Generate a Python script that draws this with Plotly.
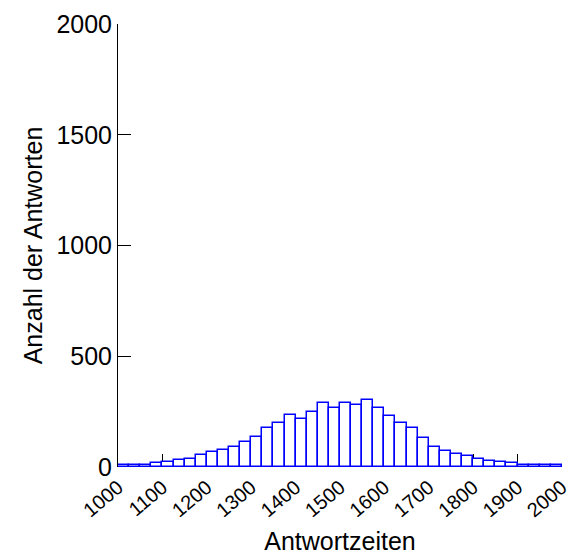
import plotly.graph_objects as go

bin_starts = [1000 + 25 * i for i in range(40)]
counts = [9, 8, 10, 20, 24, 33, 36, 53, 66, 75,
          92, 113, 134, 176, 199, 234, 217, 250, 290, 268,
          290, 282, 302, 267, 231, 199, 176, 131, 92, 71,
          59, 51, 35, 26, 24, 18, 8, 11, 8, 8]
bin_width = 25
x_ticks = list(range(1000, 2001, 100))
y_ticks = [0, 500, 1000, 1500, 2000]

centers = [s + bin_width / 2 for s in bin_starts]

fig = go.Figure(go.Bar(
    x=centers, y=counts, width=[bin_width] * len(counts),
    marker=dict(color="white", line=dict(color="#0000ff", width=1.5)),
))

font = "Liberation Sans, Arial, sans-serif"
fig.update_layout(
    width=570, height=557,
    margin=dict(l=118, r=8, t=24, b=90),
    plot_bgcolor="white", paper_bgcolor="white",
    showlegend=False,
    font=dict(family=font, color="black"),
    bargap=0,
)
fig.update_xaxes(
    range=[999.9, 2000.1], tickvals=x_ticks, ticktext=[str(v) for v in x_ticks],
    ticks="inside", ticklen=13, tickcolor="black", tickwidth=1,
    tickangle=-40, tickfont=dict(size=20, family=font),
    ticklabeloverflow="allow", ticklabelstandoff=4, automargin=False,
    showgrid=False, zeroline=False, showline=False, layer="below traces",
    title=dict(text="Antwortzeiten", font=dict(size=25, family=font), standoff=12),
)
fig.update_yaxes(
    range=[0, 2000], tickvals=y_ticks,
    ticks="inside", ticklen=13, tickcolor="black", tickwidth=1,
    tickfont=dict(size=25, family=font), automargin=False,
    showgrid=False, zeroline=False, showline=True, linecolor="black", linewidth=1,
    layer="below traces",
    title=dict(text="Anzahl der Antworten", font=dict(size=25, family=font), standoff=6),
)

fig.write_html("out.html")
